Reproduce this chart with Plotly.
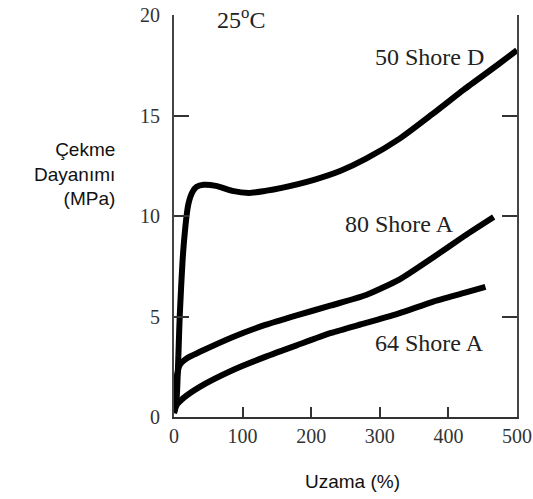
import plotly.graph_objects as go

# Uzama (%) values and Çekme Dayanımı (MPa) values
x_50D = [0, 2, 4, 8.6, 14, 21, 27, 33, 43, 61, 85, 109, 133, 157, 204, 243, 280, 329, 376, 423, 471, 500]
y_50D = [0.2, 0.5, 1.0, 5.2, 8.5, 10.6, 11.2, 11.45, 11.55, 11.5, 11.25, 11.15, 11.25, 11.4, 11.8, 12.25, 12.85, 13.85, 15.05, 16.3, 17.5, 18.25]

x_80A = [0, 1, 3, 8.6, 20, 37, 86, 133, 180, 229, 280, 329, 376, 423, 466]
y_80A = [0.2, 1.0, 1.8, 2.6, 2.95, 3.23, 3.98, 4.58, 5.07, 5.55, 6.07, 6.85, 7.9, 9.0, 9.95]

x_64A = [0, 4, 14, 37, 86, 133, 180, 229, 280, 329, 376, 423, 454]
y_64A = [0.2, 0.6, 0.95, 1.49, 2.34, 2.99, 3.58, 4.18, 4.68, 5.17, 5.72, 6.17, 6.47]

x_ticks = [0, 100, 200, 300, 400, 500]
y_ticks = [0, 5, 10, 15, 20]

series = [
    ("50 Shore D", x_50D, y_50D),
    ("80 Shore A", x_80A, y_80A),
    ("64 Shore A", x_64A, y_64A),
]

labels = [
    ("50 Shore D", 373, 17.9),
    ("80 Shore A", 328, 9.6),
    ("64 Shore A", 373, 3.7),
    ("25<sup>o</sup>C", 97, 19.85),
]

serif = "Liberation Serif"
sans = "Liberation Sans"

fig = go.Figure()
for name, xs, ys in series:
    fig.add_trace(go.Scatter(
        x=xs, y=ys, mode="lines", name=name,
        line=dict(color="black", width=6, shape="spline", smoothing=0.6),
        showlegend=False, hoverinfo="skip",
    ))

for text, xv, yv in labels:
    fig.add_annotation(x=xv, y=yv, xref="x", yref="y", text=text, showarrow=False,
                       font=dict(family=serif, size=24, color="#222"))

# axis titles as paper annotations
fig.add_annotation(
    xref="paper", yref="paper", x=-0.165, y=0.605, xanchor="right", yanchor="middle",
    text="Çekme<br>Dayanımı<br>(MPa)", align="right", showarrow=False,
    font=dict(family=sans, size=19, color="#111"),
)
fig.add_annotation(
    xref="paper", yref="paper", x=0.52, y=-0.16, xanchor="center", yanchor="middle",
    text="Uzama (%)", showarrow=False,
    font=dict(family=sans, size=19, color="#111"),
)

fig.update_xaxes(
    range=[0, 500], tickvals=x_ticks, ticktext=[str(v) for v in x_ticks],
    ticks="inside", ticklen=10, tickwidth=2, tickcolor="#333",
    showline=True, linewidth=2, linecolor="#333", mirror=False,
    showgrid=False, zeroline=False, ticklabeloverflow="allow", automargin=False,
    tickfont=dict(family=serif, size=20, color="#333"),
)
fig.update_yaxes(
    range=[0, 20], tickvals=y_ticks, ticktext=[str(v) for v in y_ticks],
    ticks="inside", ticklen=15, tickwidth=2, tickcolor="#333",
    showline=True, linewidth=2, linecolor="#444", mirror="ticks",
    showgrid=False, zeroline=False, ticklabelstandoff=8, automargin=False,
    tickfont=dict(family=serif, size=20, color="#333"),
)

fig.update_layout(
    width=533, height=499,
    margin=dict(l=174, r=16, t=15, b=82),
    paper_bgcolor="white", plot_bgcolor="white",
)

fig.write_html("out.html")
